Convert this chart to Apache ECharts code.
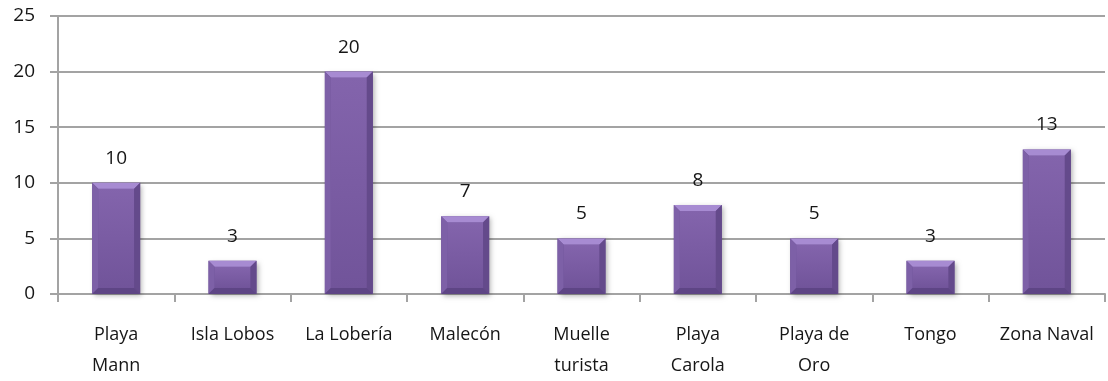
<!DOCTYPE html>
<html>
<head>
<meta charset="utf-8">
<script src="https://cdn.jsdelivr.net/npm/echarts@6/dist/echarts.min.js"></script>
<style>
  html, body { margin: 0; padding: 0; background: #fff; }
  #chart { width: 1108px; height: 381px; }
</style>
</head>
<body>
<div id="chart"></div>
<script>
// Sightings per location
const categories = ['Playa\nMann', 'Isla Lobos', 'La Lobería', 'Malecón', 'Muelle\nturista', 'Playa\nCarola', 'Playa de\nOro', 'Tongo', 'Zona Naval'];
const values = [10, 3, 20, 7, 5, 8, 5, 3, 13];
const yTicks = { min: 0, max: 25, interval: 5 };

const FONT = '"Open Sans", "Noto Sans", sans-serif';
const gridColor = '#a3a3a3';
const textColor = '#161616';
const BAR_W = 48;
const BEVEL = 6;

// Bevelled bar: front face, lighter top facet, softly shaded side and bottom facets
function renderBar(params, api) {
  const idx = api.value(0);
  const val = api.value(1);
  const top = api.coord([idx, val]);
  const base = api.coord([idx, 0]);
  const x0 = top[0] - BAR_W / 2, x1 = top[0] + BAR_W / 2;
  const y0 = top[1], y1 = base[1];
  const b = Math.min(BEVEL, (y1 - y0) / 3);
  const poly = (pts, fill) => ({ type: 'polygon', shape: { points: pts }, style: { fill: fill } });
  return {
    type: 'group',
    children: [
      {
        type: 'rect',
        shape: { x: x0, y: y0, width: BAR_W, height: y1 - y0 },
        style: {
          fill: '#6c5094',
          shadowColor: 'rgba(0,0,0,0.3)', shadowBlur: 5, shadowOffsetX: 2, shadowOffsetY: 2
        }
      },
      {
        type: 'rect',
        shape: { x: x0 + b, y: y0 + b, width: BAR_W - 2 * b, height: y1 - y0 - 2 * b },
        style: {
          fill: {
            type: 'linear', x: 0, y: 0, x2: 0, y2: 1,
            colorStops: [{ offset: 0, color: '#8364ac' }, { offset: 1, color: '#71549a' }]
          }
        }
      },
      poly([[x0, y0], [x1, y0], [x1 - b, y0 + b], [x0 + b, y0 + b]], '#a78bd2'),
      poly([[x0, y0], [x0 + b, y0 + b], [x0 + b, y1 - b], [x0, y1]], '#7d60a7'),
      poly([[x1, y0], [x1, y1], [x1 - b, y1 - b], [x1 - b, y0 + b]], '#644a8b'),
      poly([[x0, y1], [x0 + b, y1 - b], [x1 - b, y1 - b], [x1, y1]], '#5e4585'),
      {
        type: 'text',
        style: {
          text: String(val), x: top[0], y: y0 - 15,
          align: 'center', verticalAlign: 'bottom',
          fill: textColor, font: '19px ' + FONT
        }
      }
    ]
  };
}

const chart = echarts.init(document.getElementById('chart'), null, { renderer: 'canvas' });
chart.setOption({
  animation: false,
  grid: { left: 58, right: 3, top: 16, bottom: 87, containLabel: false, outerBoundsMode: 'none' },
  xAxis: {
    type: 'category',
    data: categories,
    boundaryGap: true,
    axisLine: { lineStyle: { color: gridColor, width: 2 } },
    axisTick: { show: true, length: 8, lineStyle: { color: gridColor, width: 2 } },
    axisLabel: { color: textColor, fontFamily: FONT, fontSize: 18, lineHeight: 31, margin: 25, interval: 0 }
  },
  yAxis: {
    type: 'value',
    min: yTicks.min, max: yTicks.max, interval: yTicks.interval,
    axisLine: { show: true, lineStyle: { color: gridColor, width: 2 } },
    axisTick: { show: true, length: 8, lineStyle: { color: gridColor, width: 2 } },
    splitLine: { show: true, lineStyle: { color: gridColor, width: 2 } },
    axisLabel: { color: textColor, fontFamily: FONT, fontSize: 19, margin: 23 }
  },
  series: [{
    type: 'custom',
    renderItem: renderBar,
    data: values.map((v, i) => [i, v]),
    encode: { x: 0, y: 1 }
  }]
});
</script>
</body>
</html>
